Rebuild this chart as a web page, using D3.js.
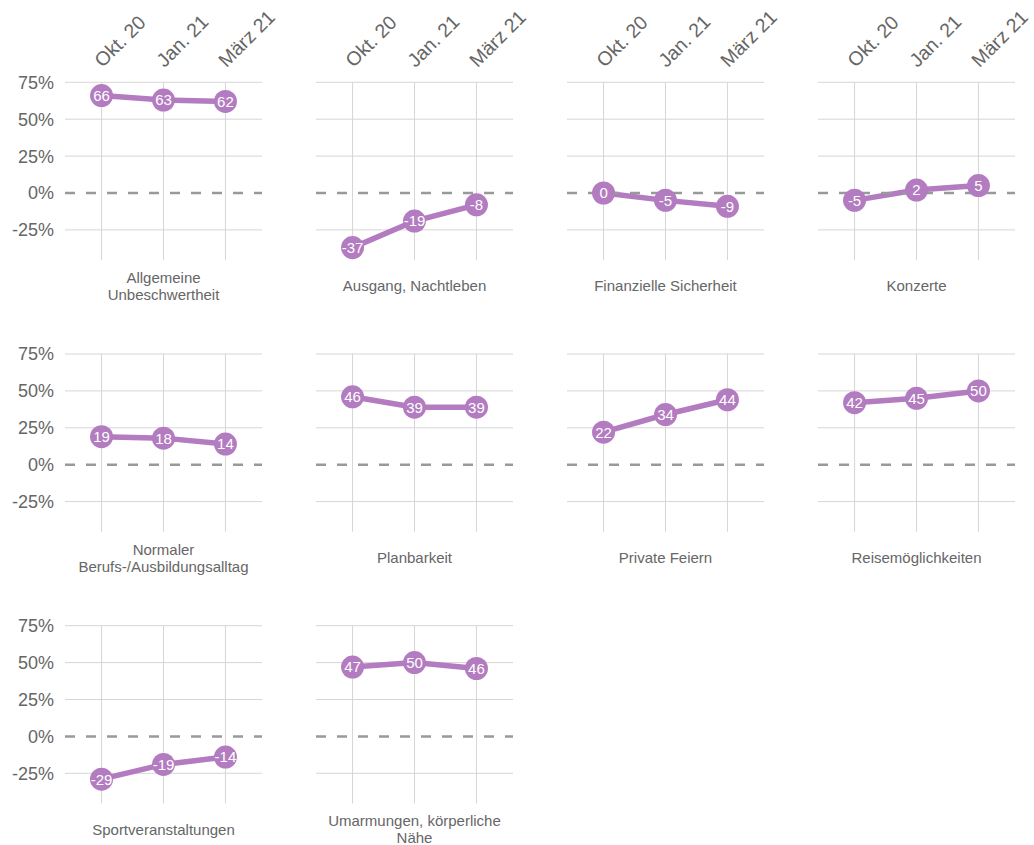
<!DOCTYPE html>
<html>
<head>
<meta charset="utf-8">
<script src="https://cdn.jsdelivr.net/npm/d3@7"></script>
<style>
  body { margin: 0; background: #fff; }
  svg { font-family: "Liberation Sans", Arial, Helvetica, sans-serif; }
  .grid line { stroke: #d6d6d6; stroke-width: 1; }
  .zero { stroke: #999; stroke-width: 2.5; stroke-dasharray: 10 11; }
  .axis-label { fill: #666; font-size: 18px; }
  .x-label { fill: #666; font-size: 19.5px; }
  .strip { fill: #666; font-size: 15px; }
  .val { fill: #fff; font-size: 15px; }
</style>
</head>
<body>
<svg width="1034" height="845"></svg>
<script>
var months = ["Okt. 20", "Jan. 21", "März 21"];
var yTicks = [75, 50, 25, 0, -25];

var topics = [
  "Allgemeine\nUnbeschwertheit",
  "Ausgang, Nachtleben",
  "Finanzielle Sicherheit",
  "Konzerte",
  "Normaler\nBerufs-/Ausbildungsalltag",
  "Planbarkeit",
  "Private Feiern",
  "Reisemöglichkeiten",
  "Sportveranstaltungen",
  "Umarmungen, körperliche\nNähe"
];

var unbeschwertheit = [66, 63, 62];
var ausgang = [-37, -19, -8];
var finanzen = [0, -5, -9];
var konzerte = [-5, 2, 5];
var berufsalltag = [19, 18, 14];
var planbarkeit = [46, 39, 39];
var feiern = [22, 34, 44];
var reisen = [42, 45, 50];
var sport = [-29, -19, -14];
var umarmungen = [47, 50, 46];

var series = [unbeschwertheit, ausgang, finanzen, konzerte, berufsalltag,
              planbarkeit, feiern, reisen, sport, umarmungen];

var svg = d3.select("svg"),
    marginLeft = 65, marginTop = 82.3,
    panelW = 197, panelH = 177.7,
    colStep = 251, rowStep = 271.7,
    purple = "#b37bc0";

var x = d3.scalePoint().domain(months).range([0, panelW]).padding(0.59);
var y = d3.scaleLinear().domain([-45.4, 75]).range([panelH, 0]);

var line = d3.line()
    .x(function(d, i) { return x(months[i]); })
    .y(function(d) { return y(d); });

topics.forEach(function(name, k) {
  var col = k % 4, row = Math.floor(k / 4);
  var g = svg.append("g")
      .attr("transform", "translate(" + (marginLeft + col * colStep) + "," + (marginTop + row * rowStep) + ")");

  var grid = g.append("g").attr("class", "grid");
  grid.selectAll(".h").data(yTicks.filter(function(t) { return t !== 0; }))
    .enter().append("line")
      .attr("x1", 0).attr("x2", panelW)
      .attr("y1", function(d) { return y(d); })
      .attr("y2", function(d) { return y(d); });
  grid.selectAll(".v").data(months)
    .enter().append("line")
      .attr("x1", function(d) { return x(d); })
      .attr("x2", function(d) { return x(d); })
      .attr("y1", 0).attr("y2", panelH);

  if (col === 0) {
    g.selectAll(".ylab").data(yTicks)
      .enter().append("text")
        .attr("class", "axis-label")
        .attr("x", -11)
        .attr("y", function(d) { return y(d); })
        .attr("dy", "0.36em")
        .attr("text-anchor", "end")
        .text(function(d) { return d + "%"; });
  }

  if (row === 0) {
    g.selectAll(".xlab").data(months)
      .enter().append("text")
        .attr("class", "x-label")
        .attr("text-anchor", "start")
        .attr("transform", function(d) { return "translate(" + (x(d) + 1) + ",-14) rotate(-45)"; })
        .text(function(d) { return d; });
  }

  var vals = series[k];

  g.append("path")
      .datum(vals)
      .attr("fill", "none")
      .attr("stroke", purple)
      .attr("stroke-width", 5.5)
      .attr("d", line);

  g.append("line")
      .attr("class", "zero")
      .attr("x1", 0).attr("x2", panelW)
      .attr("y1", y(0)).attr("y2", y(0));

  g.selectAll(".pt").data(vals)
    .enter().append("circle")
      .attr("cx", function(d, i) { return x(months[i]); })
      .attr("cy", function(d) { return y(d); })
      .attr("r", 11.5)
      .attr("fill", purple);

  g.selectAll(".val").data(vals)
    .enter().append("text")
      .attr("class", "val")
      .attr("x", function(d, i) { return x(months[i]); })
      .attr("y", function(d) { return y(d); })
      .attr("dy", "0.36em")
      .attr("text-anchor", "middle")
      .text(function(d) { return d; });

  var lines = name.split("\n");
  var strip = g.append("text")
      .attr("class", "strip")
      .attr("text-anchor", "middle")
      .attr("x", panelW / 2)
      .attr("y", 286 - 82.3 - (lines.length - 1) * 8.5);
  lines.forEach(function(t, j) {
    strip.append("tspan")
      .attr("x", panelW / 2)
      .attr("dy", j === 0 ? "0.36em" : 17)
      .text(t);
  });
});
</script>
</body>
</html>
